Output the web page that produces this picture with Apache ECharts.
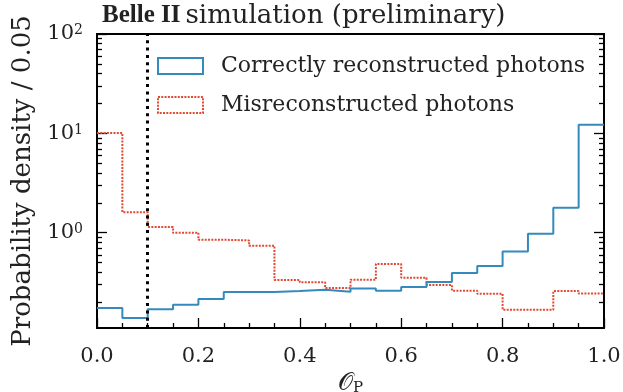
<!DOCTYPE html>
<html><head><meta charset="utf-8">
<script src="https://cdn.jsdelivr.net/npm/echarts@6/dist/echarts.min.js"></script>
<style>html,body{margin:0;padding:0;background:#fff}#c{width:623px;height:392px}</style>
</head><body><div id="c"></div>
<script>
// bin edges (width 0.05)
const binEdges = [0,0.05,0.1,0.15,0.2,0.25,0.3,0.35,0.4,0.45,0.5,0.55,0.6,0.65,0.7,0.75,0.8,0.85,0.9,0.95,1.0];
const correctName = 'Correctly reconstructed photons';
const misName = 'Misreconstructed photons';
const correctVals = [0.175,0.139,0.170,0.188,0.216,0.253,0.253,0.259,0.267,0.255,0.274,0.261,0.284,0.319,0.393,0.462,0.649,0.977,1.78,12.2];
const misVals = [10.1,1.61,1.14,1.0,0.851,0.837,0.74,0.335,0.317,0.278,0.337,0.484,0.353,0.298,0.261,0.243,0.168,0.168,0.259,0.244];
const cutValue = 0.1;
const yMajor = [1,10,100];
const yMinor = [0.2,0.3,0.4,0.5,0.6,0.7,0.8,0.9,2,3,4,5,6,7,8,9,20,30,40,50,60,70,80,90];

const F = 'DejaVu Serif';
const BLUE = '#348ABD', RED = '#E24A33';
function stepData(vals){ return binEdges.map((e,i)=>[e, vals[Math.min(i, vals.length-1)]]); }

const yMin = 0.11, yMax = 100;
function yAx(pos, custom, len, labels){
  return {type:'log', logBase:10, min:yMin, max:yMax, position:pos,
    axisLine:{show:true, lineStyle:{color:'#000', width:2}},
    axisTick:{show:true, inside:true, length:len, customValues:custom, lineStyle:{color:'#000', width:1.3}},
    axisLabel: labels ? {show:true, customValues:yMajor, margin:14, fontFamily:F, fontSize:21, color:'#222',
       formatter: v => '10{s|' + Math.round(Math.log10(v)) + '}',
       rich:{s:{fontFamily:F, fontSize:14, verticalAlign:'top', lineHeight:14, color:'#222'}}} : {show:false},
    splitLine:{show:false}, minorTick:{show:false}};
}

const chart = echarts.init(document.getElementById('c'), null, {renderer:'canvas'});
const yAxes = [yAx('left', yMajor, 10, true), yAx('left', yMinor, 5, false), yAx('right', yMajor, 10, false), yAx('right', yMinor, 5, false)];
yAxes[0].name = 'Probability density / 0.05';
yAxes[0].nameLocation = 'middle';
yAxes[0].nameGap = 54;
yAxes[0].nameTextStyle = {fontFamily:F, fontSize:26, color:'#222'};

chart.setOption({
  animation:false,
  backgroundColor:'#fff',
  title:{text:'{b|Belle II} {n|simulation (preliminary)}', left:102, top:3, padding:0,
    textStyle:{fontWeight:'normal', rich:{b:{fontFamily:'Liberation Serif', fontWeight:'bold', fontSize:25, color:'#222'}, n:{fontFamily:F, fontWeight:'normal', fontSize:26, color:'#222'}}}},
  legend:{orient:'vertical', left:157, top:55, padding:0, itemWidth:45, itemHeight:16, itemGap:17,
    textStyle:{fontFamily:F, fontSize:22, lineHeight:16, color:'#222', padding:[0,0,0,13]},
    data:[
      {name:correctName, icon:'rect', itemStyle:{color:'rgba(0,0,0,0)', borderColor:BLUE, borderWidth:2}},
      {name:misName, icon:'rect', itemStyle:{color:'rgba(0,0,0,0)', borderColor:RED, borderWidth:2, borderType:[2,1.3]}}
    ]},
  grid:{left:97, right:19, top:34, bottom:64, containLabel:false, outerBoundsMode:'none'},
  xAxis:[
    {type:'value', min:0, max:1, interval:0.2, position:'bottom',
     axisLine:{show:true, lineStyle:{color:'#000', width:2}},
     axisTick:{show:true, inside:true, length:10, lineStyle:{color:'#000', width:1.3}},
     minorTick:{show:true, splitNumber:4, length:5, lineStyle:{color:'#000', width:1.3}},
     axisLabel:{margin:18, fontFamily:F, fontSize:21, color:'#222', formatter:v=>v.toFixed(1)},
     splitLine:{show:false},
     name:'{o|𝒪}{p|P}', nameLocation:'middle', nameGap:34,
     nameTextStyle:{rich:{o:{fontFamily:F, fontSize:24, lineHeight:24, color:'#222'}, p:{fontFamily:F, fontSize:15, lineHeight:15, color:'#222', verticalAlign:'bottom'}}}},
    {type:'value', min:0, max:1, position:'top', axisLine:{show:true, lineStyle:{color:'#000', width:2}},
     axisTick:{show:false}, axisLabel:{show:false}, splitLine:{show:false}}
  ],
  yAxis: yAxes,
  series:[
    {name:correctName, type:'line', step:'end', data:stepData(correctVals), xAxisIndex:0, yAxisIndex:0,
     showSymbol:false, symbol:'none', lineStyle:{color:BLUE, width:2}, itemStyle:{color:BLUE}, z:3,
     markLine:{silent:true, symbol:'none', label:{show:false}, lineStyle:{color:'#000', type:[3,4.3], width:3},
       data:[{xAxis:cutValue}]}},
    {name:misName, type:'line', step:'end', data:stepData(misVals), xAxisIndex:0, yAxisIndex:0,
     showSymbol:false, symbol:'none', lineStyle:{color:RED, width:2, type:[2,1.3]}, itemStyle:{color:RED}, z:2}
  ]
});
</script></body></html>
